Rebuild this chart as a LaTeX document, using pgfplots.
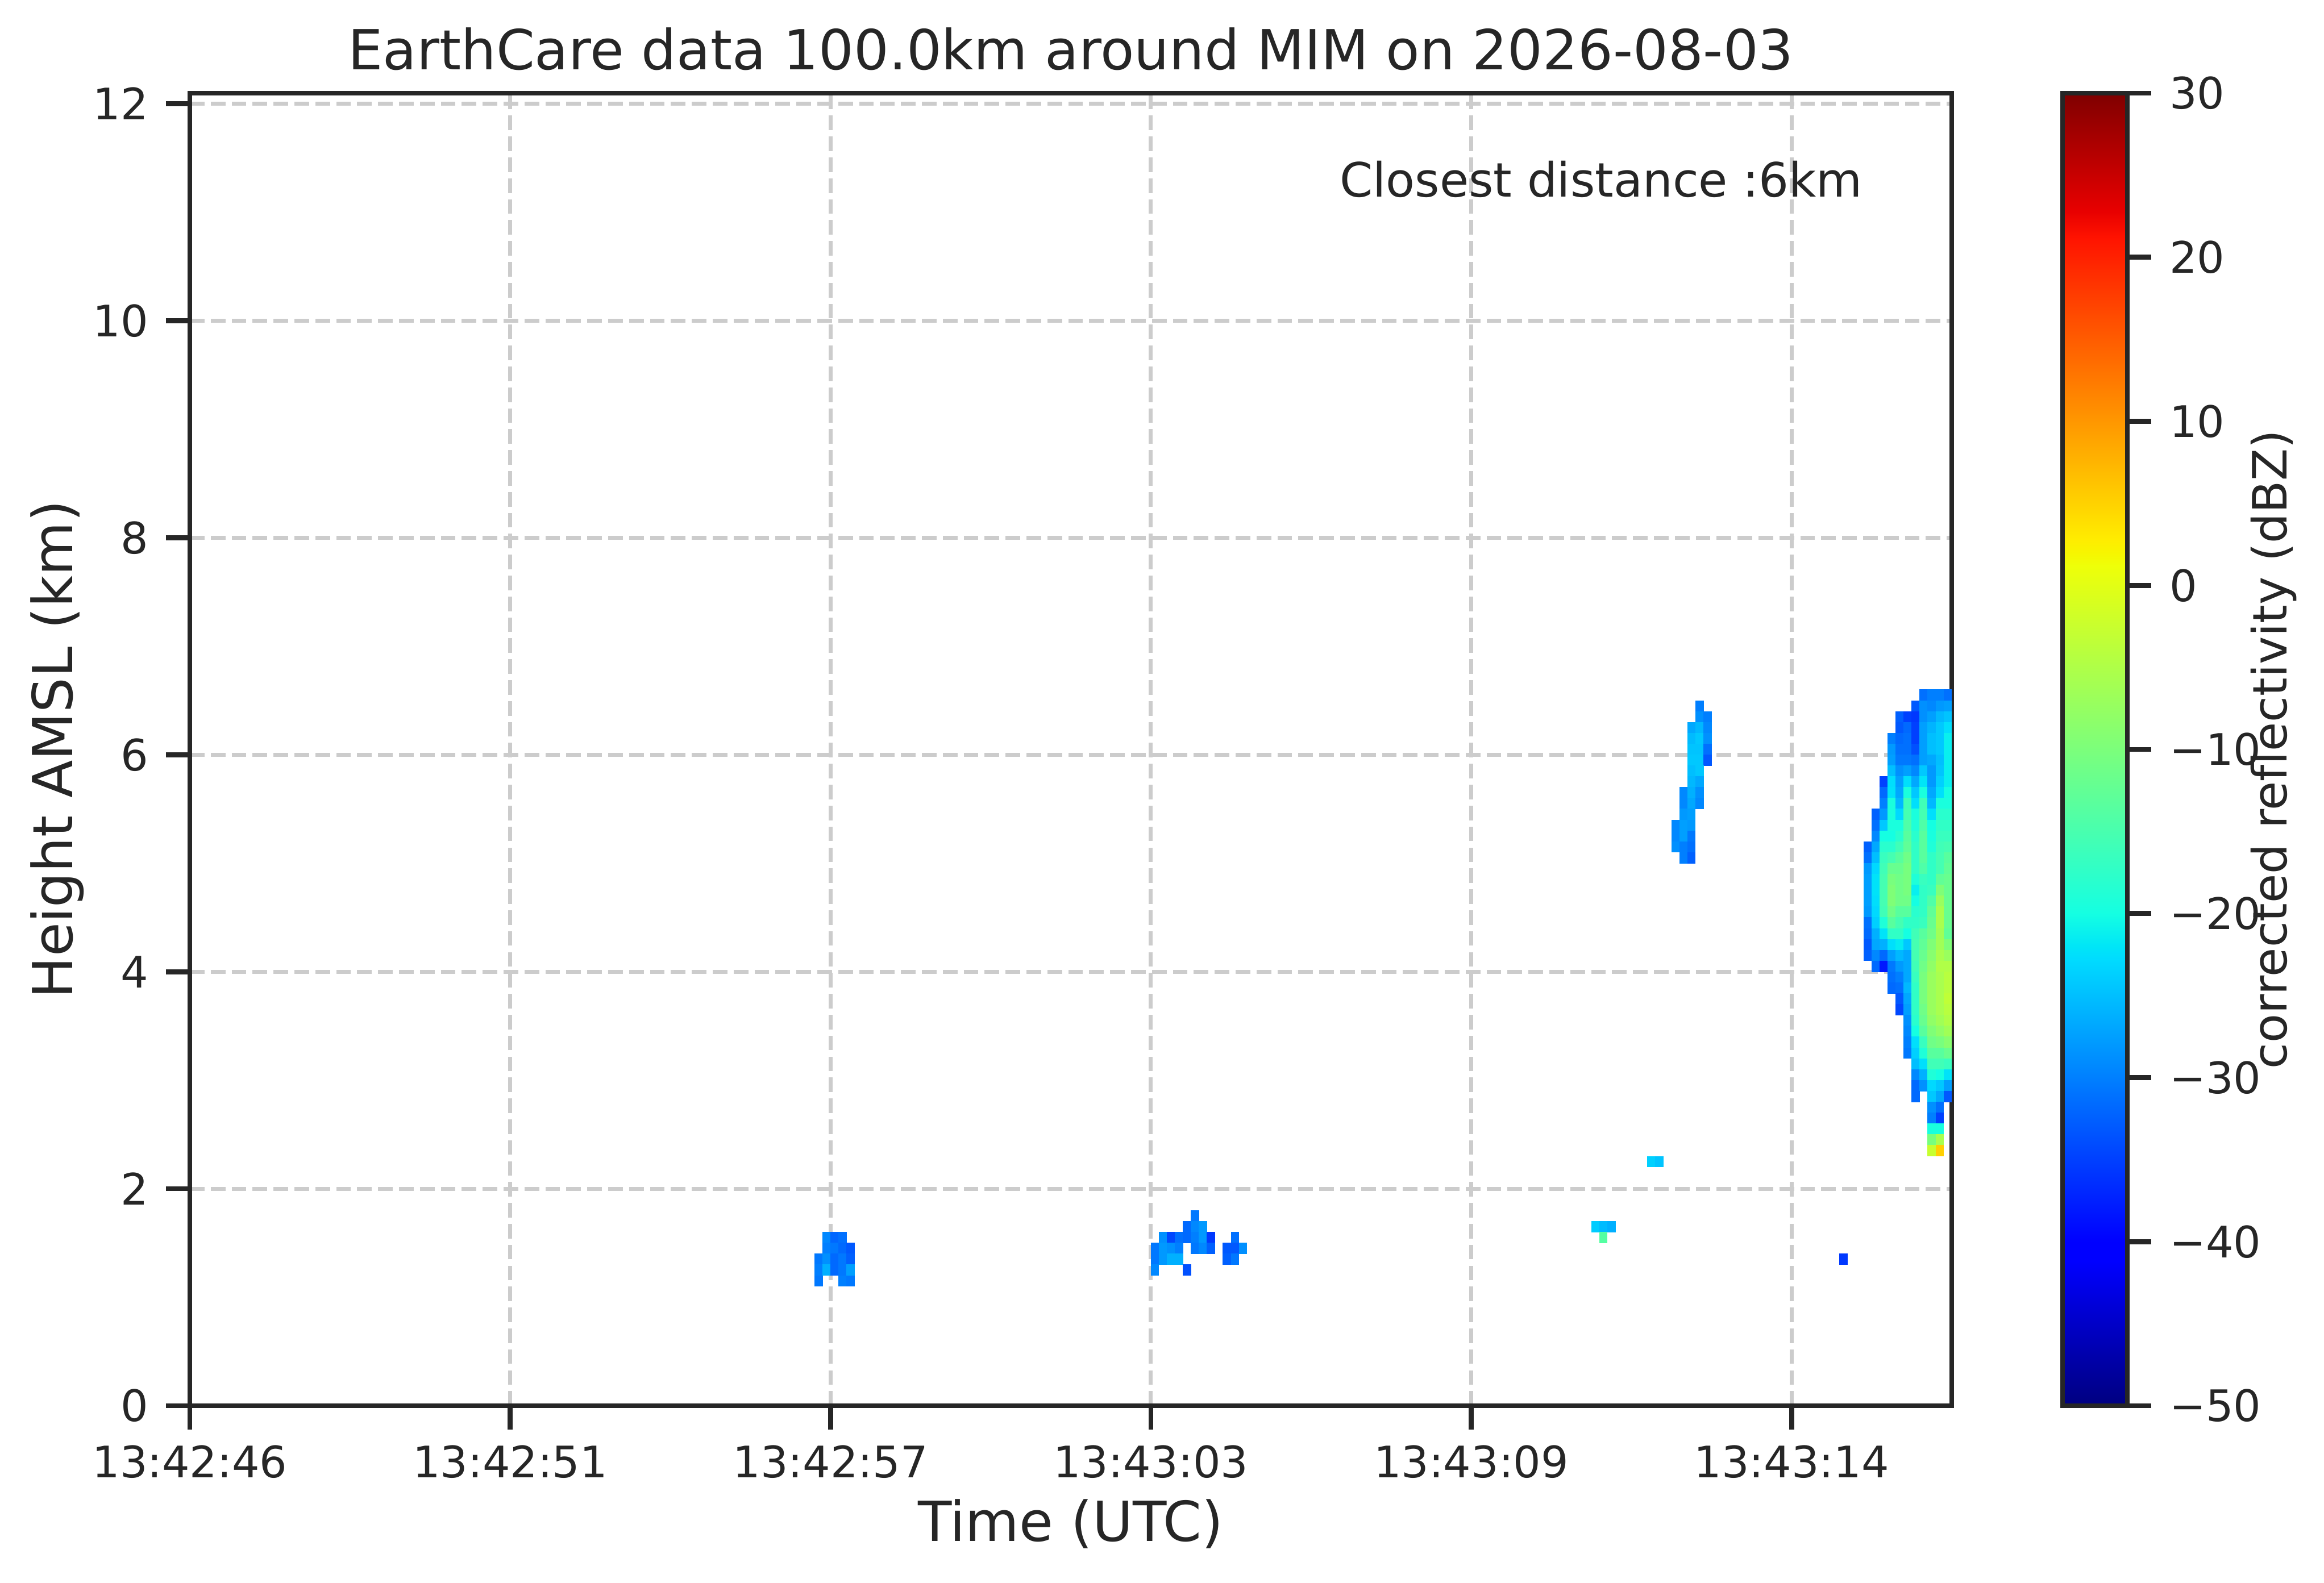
\documentclass[border=0pt]{standalone}
\usepackage{pgfplots}
\pgfplotsset{compat=1.18}
\usepackage{pgfplotstable}
\usepackage{fontspec}
\setmainfont{DejaVu Sans}
\definecolor{txt}{HTML}{262626}
\definecolor{gridc}{HTML}{CCCCCC}
\pgfdeclareplotmark{cell}{%
  \pgfpathrectangle{\pgfpoint{-0.03pt}{-0.03pt}}{\pgfpoint{1.47pt}{1.97pt}}%
  \pgfusepathqfill}
\pgfplotsset{
  colormap={mpljet}{rgb(0pt)=(0,0,0.5); rgb(11pt)=(0,0,1); rgb(12.5pt)=(0,0,1); rgb(34pt)=(0,0.86,1); rgb(35pt)=(0,0.9,0.968); rgb(37.5pt)=(0.081,1,0.887); rgb(64pt)=(0.935,1,0.032); rgb(65pt)=(0.968,0.963,0); rgb(66pt)=(1,0.926,0); rgb(89pt)=(1,0.074,0); rgb(91pt)=(0.909,0,0); rgb(100pt)=(0.5,0,0)}
}
% m = cell index along track (left edge), y = cell bottom (km), v = reflectivity (dBZ)
\pgfplotstableread{
m y v
79 1.5 -29.3
80 1.5 -32
81 1.5 -31.2
79 1.4 -30
80 1.4 -30.6
81 1.4 -31.8
82 1.4 -33.1
78 1.3 -30.6
79 1.3 -28.7
80 1.3 -31.8
81 1.3 -30.6
82 1.3 -32.5
78 1.2 -30
79 1.2 -26.2
80 1.2 -31.8
81 1.2 -30.6
82 1.2 -27.5
78 1.1 -30.6
81 1.1 -30
82 1.1 -30.6
125 1.7 -30.6
124 1.6 -31.8
125 1.6 -29.3
126 1.6 -28
121 1.5 -28.7
122 1.5 -34.4
123 1.5 -31.2
124 1.5 -31.8
125 1.5 -30
126 1.5 -28
127 1.5 -35.6
130 1.5 -31.2
120 1.4 -30.6
121 1.4 -28
122 1.4 -28.7
123 1.4 -30
125 1.4 -30.6
126 1.4 -29.3
127 1.4 -32.5
129 1.4 -33.1
130 1.4 -33.1
131 1.4 -28.7
120 1.3 -30.6
121 1.3 -28
122 1.3 -26.2
123 1.3 -26.2
129 1.3 -32.5
130 1.3 -30.6
120 1.2 -29.3
124 1.2 -33.7
182 2.2 -23.7
183 2.2 -24.6
175 1.6 -24
176 1.6 -25.3
177 1.6 -26.2
176 1.5 -13.8
188 6.4 -30
188 6.3 -28.7
189 6.3 -30
187 6.2 -26.8
188 6.2 -25.6
189 6.2 -29.3
187 6.1 -25.3
188 6.1 -24.3
189 6.1 -28.7
187 6.0 -24.6
188 6.0 -24.6
189 6.0 -31.2
187 5.9 -24.3
188 5.9 -24.3
189 5.9 -33.1
187 5.8 -25
188 5.8 -24.3
187 5.7 -25.6
188 5.7 -26.8
186 5.6 -29.3
187 5.6 -26.2
188 5.6 -28.7
186 5.5 -29.3
187 5.5 -26.8
188 5.5 -29.3
186 5.4 -28
187 5.4 -27.5
185 5.3 -29.3
186 5.3 -27.5
187 5.3 -28
185 5.2 -29.3
186 5.2 -27.5
187 5.2 -30.6
185 5.1 -28.7
186 5.1 -30
187 5.1 -31.2
186 5.0 -30
187 5.0 -32.5
206 1.3 -35.6
216 6.5 -31.2
217 6.5 -30
218 6.5 -30
219 6.5 -31.2
215 6.4 -33.1
216 6.4 -28.7
217 6.4 -29.3
218 6.4 -28
219 6.4 -27.5
213 6.3 -32.5
214 6.3 -35
215 6.3 -35.6
216 6.3 -28.7
217 6.3 -27.5
218 6.3 -25.6
219 6.3 -24.6
213 6.2 -33.1
214 6.2 -31.8
215 6.2 -35
216 6.2 -27.5
217 6.2 -25.9
218 6.2 -24.3
219 6.2 -22.5
212 6.1 -30
213 6.1 -31.8
214 6.1 -31.2
215 6.1 -35
216 6.1 -27.5
217 6.1 -25
218 6.1 -24.3
219 6.1 -21.2
212 6.0 -28
213 6.0 -31.2
214 6.0 -31.2
215 6.0 -33.7
216 6.0 -27.5
217 6.0 -25
218 6.0 -24.3
219 6.0 -21.2
212 5.9 -27.5
213 5.9 -30.6
214 5.9 -30.6
215 5.9 -31.2
216 5.9 -27.5
217 5.9 -26.8
218 5.9 -25
219 5.9 -21.2
212 5.8 -25
213 5.8 -28.7
214 5.8 -27.5
215 5.8 -29.3
216 5.8 -24.3
217 5.8 -28
218 5.8 -24.6
219 5.8 -21.2
211 5.7 -35
212 5.7 -22.5
213 5.7 -27.5
214 5.7 -22.5
215 5.7 -26.8
216 5.7 -22
217 5.7 -28
218 5.7 -23.7
219 5.7 -21.2
211 5.6 -31.8
212 5.6 -22.2
213 5.6 -26.8
214 5.6 -19.5
215 5.6 -24.3
216 5.6 -19.5
217 5.6 -26.8
218 5.6 -22.5
219 5.6 -20
211 5.5 -30
212 5.5 -19.5
213 5.5 -25.6
214 5.5 -15.8
215 5.5 -22.5
216 5.5 -15.8
217 5.5 -25.6
218 5.5 -19.5
219 5.5 -19.5
210 5.4 -32.5
211 5.4 -28
212 5.4 -19.5
213 5.4 -23
214 5.4 -15.3
215 5.4 -19.5
216 5.4 -15.3
217 5.4 -22.5
218 5.4 -18
219 5.4 -18
210 5.3 -31.2
211 5.3 -24.3
212 5.3 -19.5
213 5.3 -19.5
214 5.3 -14.3
215 5.3 -19
216 5.3 -14.3
217 5.3 -20
218 5.3 -17.3
219 5.3 -17.3
210 5.2 -29.3
211 5.2 -20
212 5.2 -20
213 5.2 -18
214 5.2 -13.4
215 5.2 -18
216 5.2 -13.4
217 5.2 -19.6
218 5.2 -16.6
219 5.2 -16.6
209 5.1 -32.5
210 5.1 -26.8
211 5.1 -18
212 5.1 -18
213 5.1 -15.8
214 5.1 -12.7
215 5.1 -17.3
216 5.1 -13.4
217 5.1 -19
218 5.1 -15.8
219 5.1 -15.3
209 5.0 -31.2
210 5.0 -25
211 5.0 -16.6
212 5.0 -15.3
213 5.0 -13.4
214 5.0 -11.1
215 5.0 -17.3
216 5.0 -13.4
217 5.0 -17.3
218 5.0 -15.3
219 5.0 -13.4
209 4.9 -28
210 4.9 -23
211 4.9 -15.8
212 4.9 -11.9
213 4.9 -11.9
214 4.9 -10.3
215 4.9 -17.3
216 4.9 -14.3
217 4.9 -17.3
218 4.9 -15.3
219 4.9 -12.7
209 4.8 -27.5
210 4.8 -22.2
211 4.8 -15.3
212 4.8 -10.3
213 4.8 -11.1
214 4.8 -10.3
215 4.8 -19
216 4.8 -16.6
217 4.8 -17.3
218 4.8 -12.7
219 4.8 -11.9
209 4.7 -27.5
210 4.7 -22.2
211 4.7 -15.3
212 4.7 -9.6
213 4.7 -11.1
214 4.7 -10.3
215 4.7 -21.2
216 4.7 -17.3
217 4.7 -16.6
218 4.7 -9.6
219 4.7 -11.9
209 4.6 -27.5
210 4.6 -22.5
211 4.6 -15.3
212 4.6 -9.6
213 4.6 -11.1
214 4.6 -11.1
215 4.6 -20
216 4.6 -17.3
217 4.6 -14.3
218 4.6 -7.1
219 4.6 -11.9
209 4.5 -28
210 4.5 -23
211 4.5 -15.8
212 4.5 -11.1
213 4.5 -13.4
214 4.5 -13.4
215 4.5 -18
216 4.5 -17.3
217 4.5 -12.7
218 4.5 -5.6
219 4.5 -11.9
209 4.4 -31.2
210 4.4 -23.7
211 4.4 -19
212 4.4 -13.4
213 4.4 -15.3
214 4.4 -17.3
215 4.4 -17.3
216 4.4 -16.6
217 4.4 -11.9
218 4.4 -5.6
219 4.4 -11.9
209 4.3 -31.8
210 4.3 -26.2
211 4.3 -22.2
212 4.3 -17.3
213 4.3 -17.3
214 4.3 -20
215 4.3 -15.8
216 4.3 -13.4
217 4.3 -11.1
218 4.3 -6.4
219 4.3 -12.7
209 4.2 -33.1
210 4.2 -26.8
211 4.2 -26.2
212 4.2 -22.5
213 4.2 -21.5
214 4.2 -24.3
215 4.2 -15.3
216 4.2 -12.7
217 4.2 -9.6
218 4.2 -6.4
219 4.2 -9.6
209 4.1 -32.5
210 4.1 -29.3
211 4.1 -31.8
212 4.1 -27.5
213 4.1 -25.6
214 4.1 -26.8
215 4.1 -15.3
216 4.1 -11.9
217 4.1 -8.8
218 4.1 -5.6
219 4.1 -7.1
210 4.0 -31.8
211 4.0 -38.1
212 4.0 -30.6
213 4.0 -28
214 4.0 -26.8
215 4.0 -15.8
216 4.0 -11.1
217 4.0 -8
218 4.0 -4.9
219 4.0 -4.9
212 3.9 -31.2
213 3.9 -30
214 3.9 -26.8
215 3.9 -16.6
216 3.9 -10.3
217 3.9 -7.1
218 3.9 -5.6
219 3.9 -4.1
212 3.8 -31.8
213 3.8 -31.2
214 3.8 -25.6
215 3.8 -17.3
216 3.8 -10.3
217 3.8 -7.1
218 3.8 -5.6
219 3.8 -4.1
213 3.7 -33.1
214 3.7 -26.8
215 3.7 -17.3
216 3.7 -10.3
217 3.7 -7.1
218 3.7 -5.6
219 3.7 -3.4
213 3.6 -34.4
214 3.6 -27.5
215 3.6 -17.3
216 3.6 -11.1
217 3.6 -7.1
218 3.6 -5.6
219 3.6 -4.1
214 3.5 -28.7
215 3.5 -18
216 3.5 -11.9
217 3.5 -8
218 3.5 -6.4
219 3.5 -4.9
214 3.4 -29.3
215 3.4 -20
216 3.4 -13.4
217 3.4 -9.6
218 3.4 -8
219 3.4 -6.4
214 3.3 -30
215 3.3 -22.5
216 3.3 -16.6
217 3.3 -11.1
218 3.3 -10.3
219 3.3 -8.8
214 3.2 -30.6
215 3.2 -23.7
216 3.2 -19
217 3.2 -13.4
218 3.2 -13.4
219 3.2 -11.9
215 3.1 -25
216 3.1 -22.5
217 3.1 -15.8
218 3.1 -15.8
219 3.1 -16.6
215 3.0 -29.3
216 3.0 -26.2
217 3.0 -19
218 3.0 -20
219 3.0 -22.2
215 2.9 -31.8
216 2.9 -28.7
217 2.9 -23
218 2.9 -24.3
219 2.9 -27.5
215 2.8 -31.8
217 2.8 -24.3
218 2.8 -26.8
219 2.8 -33.1
217 2.7 -28.7
218 2.7 -31.2
217 2.6 -30
218 2.6 -35
217 2.5 -19.6
218 2.5 -19.6
217 2.4 -10.3
218 2.4 -5.6
217 2.3 -2.6
218 2.3 5.2
}\cells
\begin{document}
\begin{tikzpicture}
\begin{axis}[
  name=main, at={(0,0)}, anchor=south west,
  x=1.40909pt, y=19.095pt,
  xmin=0, xmax=220, ymin=0, ymax=12.097,
  clip=false,
  colormap name=mpljet,
  point meta min=-50, point meta max=30,
  axis line style={txt, line width=0.87pt},
  tick align=outside, tick pos=left,
  major tick length=4.2pt,
  every tick/.style={txt, line width=0.87pt},
  xtick={0,40,80,120,160,200},
  xticklabels={13:42:46,13:42:51,13:42:57,13:43:03,13:43:09,13:43:14},
  ytick={0,2,4,6,8,10,12},
  yticklabels={0,2,4,6,8,10,12},
  xticklabel style={font=\fontsize{7.64pt}{9pt}\selectfont, text=txt, inner sep=0pt, anchor=base, yshift=-8.4pt},
  yticklabel style={font=\fontsize{7.64pt}{9pt}\selectfont, text=txt, inner sep=0pt, anchor=east, xshift=-2.9pt},
  grid=major,
  major grid style={gridc, line width=0.694pt, dash pattern=on 2.57pt off 1.11pt},
  colorbar,
  colorbar style={
    at={(parent axis.south east)}, anchor=south west, xshift=10.96pt,
    scale only axis, width=11.4pt, height=231pt,
    xtick=\empty,
    ytick={-50,-40,-30,-20,-10,0,10,20,30},
    yticklabels={−50,−40,−30,−20,−10,0,10,20,30},
    ytick pos=right, yticklabel pos=right,
    tick align=outside, major tick length=4.2pt,
    every tick/.style={txt, line width=0.87pt},
    axis line style={txt, line width=0.87pt},
    yticklabel style={font=\fontsize{7.64pt}{9pt}\selectfont, text=txt, inner sep=0pt, anchor=west, xshift=3.0pt},
  },
]
\addplot[scatter, only marks, mark=cell, point meta=explicit,
  scatter/use mapped color={draw=none, fill=mapped color}]
  table[x=m, y=y, meta=v] \cells;
\draw[txt, line width=0.87pt] (rel axis cs:0,0) rectangle (rel axis cs:1,1);
\end{axis}
\node[anchor=base, text=txt, font=\fontsize{9.72pt}{11pt}\selectfont, inner sep=0pt]
  at ([xshift=155pt, yshift=235.1pt]main.south west) {EarthCare data 100.0km around MIM on 2026-08-03};
\node[anchor=base, text=txt, font=\fontsize{9.72pt}{11pt}\selectfont, inner sep=0pt]
  at ([xshift=155pt, yshift=-23.8pt]main.south west) {Time (UTC)};
\node[anchor=base, rotate=90, text=txt, font=\fontsize{9.72pt}{11pt}\selectfont, inner sep=0pt]
  at ([xshift=-20.6pt, yshift=115.5pt]main.south west) {Height AMSL (km)};
\node[anchor=base, rotate=90, text=txt, font=\fontsize{8.33pt}{10pt}\selectfont, inner sep=0pt]
  at ([xshift=368.9pt, yshift=115.5pt]main.south west) {corrected reflectivity (dBZ)};
\node[anchor=base east, text=txt, font=\fontsize{8.33pt}{10pt}\selectfont, inner sep=0pt]
  at ([xshift=294.5pt, yshift=212.7pt]main.south west) {Closest distance :6km};
\pgfresetboundingbox
\path ([xshift=-33.4pt, yshift=-31.1pt]main.south west) rectangle ([xshift=375.5pt, yshift=247.4pt]main.south west);
\end{tikzpicture}
\end{document}
